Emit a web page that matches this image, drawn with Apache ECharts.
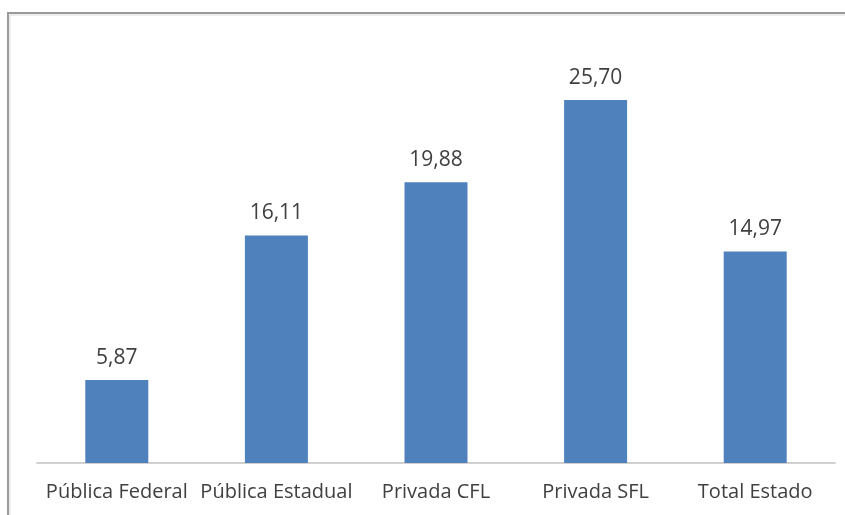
<!DOCTYPE html>
<html><head><meta charset="utf-8">
<script src="https://cdn.jsdelivr.net/npm/echarts@6/dist/echarts.min.js"></script>
<style>html,body{margin:0;padding:0;background:#fff}#c{width:845px;height:515px}</style>
</head><body><div id="c"></div>
<script>
const categories = ["Pública Federal", "Pública Estadual", "Privada CFL", "Privada SFL", "Total Estado"];
const values = [5.87, 16.11, 19.88, 25.70, 14.97];

const chart = echarts.init(document.getElementById('c'), null, {renderer: 'canvas'});
chart.setOption({
  animation: false,
  backgroundColor: '#ffffff',
  graphic: [
    {type: 'rect', shape: {x: 8, y: 13, width: 900, height: 600}, style: {fill: 'none', stroke: '#9a9a9a', lineWidth: 2}, silent: true},
    {type: 'rect', shape: {x: 10, y: 15, width: 900, height: 600}, style: {fill: 'none', stroke: '#dcdcdc', lineWidth: 1}, silent: true}
  ],
  grid: {left: 37, right: 10, top: 39.3, bottom: 52, containLabel: false},
  xAxis: {
    type: 'category', data: categories,
    axisLine: {lineStyle: {color: '#d0d0d0', width: 2}},
    axisTick: {show: false},
    axisLabel: {color: '#404040', fontFamily: 'Open Sans', fontSize: 20, margin: 19, interval: 0}
  },
  yAxis: {type: 'value', min: 0, max: 30, show: false, splitLine: {show: false}},
  series: [{
    type: 'bar', data: values, barWidth: 63,
    itemStyle: {color: '#4f81bd'},
    label: {show: true, position: 'top', distance: 12, color: '#404040', fontFamily: 'Open Sans', fontSize: 21,
      formatter: p => p.value.toFixed(2).replace('.', ',')}
  }]
});
</script></body></html>
